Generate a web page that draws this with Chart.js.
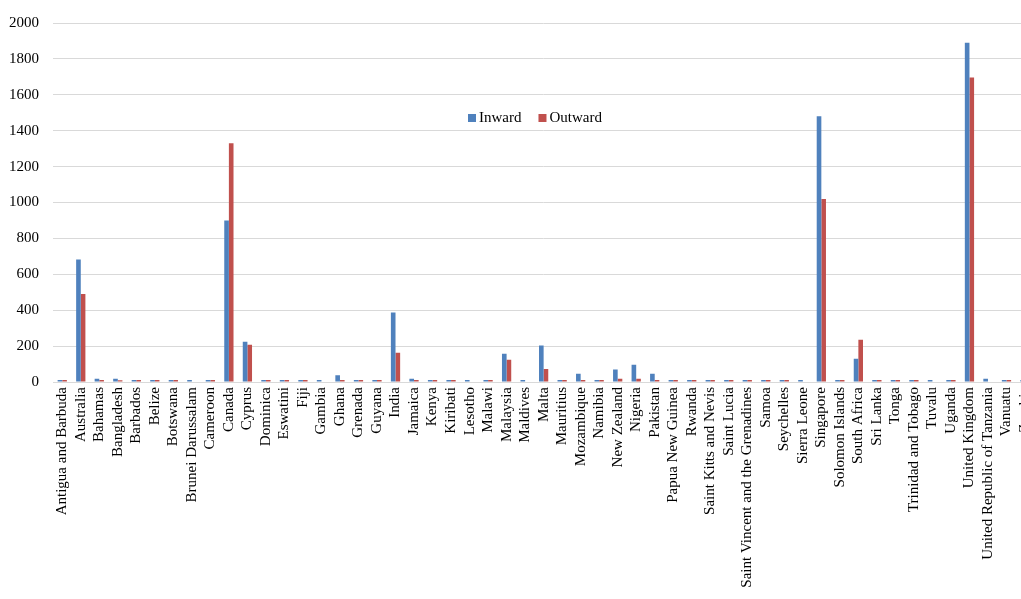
<!DOCTYPE html>
<html>
<head>
<meta charset="utf-8">
<script src="https://cdn.jsdelivr.net/npm/chart.js@4.4.1/dist/chart.umd.min.js"></script>
<style>
  html, body { margin: 0; padding: 0; background: #fff; overflow: hidden; }
  #wrap { width: 1048px; height: 599px; }
</style>
</head>
<body>
<div id="wrap"><canvas id="chart" width="1048" height="599"></canvas></div>
<script>
const countries = [
    'Antigua and Barbuda', 'Australia', 'Bahamas', 'Bangladesh', 'Barbados', 'Belize',
    'Botswana', 'Brunei Darussalam', 'Cameroon', 'Canada', 'Cyprus', 'Dominica',
    'Eswatini', 'Fiji', 'Gambia', 'Ghana', 'Grenada', 'Guyana', 'India', 'Jamaica',
    'Kenya', 'Kiribati', 'Lesotho', 'Malawi', 'Malaysia', 'Maldives', 'Malta',
    'Mauritius', 'Mozambique', 'Namibia', 'New Zealand', 'Nigeria', 'Pakistan',
    'Papua New Guinea', 'Rwanda', 'Saint Kitts and Nevis', 'Saint Lucia',
    'Saint Vincent and the Grenadines', 'Samoa', 'Seychelles', 'Sierra Leone',
    'Singapore', 'Solomon Islands', 'South Africa', 'Sri Lanka', 'Tonga',
    'Trinidad and Tobago', 'Tuvalu', 'Uganda', 'United Kingdom',
    'United Republic of Tanzania', 'Vanuatu', 'Zambia'
];

const inward = [
    11, 683, 18, 18, 11, 11, 11, 11, 11, 900, 224, 11,
    11, 11, 11, 37, 11, 11, 387, 18,
    11, 11, 11, 11, 157, 11, 204,
    11, 46, 11, 70, 96, 46,
    11, 11, 11, 11,
    11, 11, 11, 11,
    1480, 11, 129, 11, 11,
    11, 11, 11, 1890,
    18, 11, 11
];

const outward = [
    11, 490, 11, 10, 11, 11, 11, 0, 11, 1330, 208, 11,
    11, 11, 0, 11, 11, 11, 163, 11,
    11, 11, 0, 11, 124, 0, 72,
    11, 11, 11, 18, 18, 11,
    11, 11, 11, 11,
    11, 11, 11, 0,
    1020, 11, 235, 11, 11,
    11, 0, 11, 1697,
    0, 11, 11
];

const seriesNames = ['Inward', 'Outward'];
const seriesColors = ['#4F81BD', '#C0504D'];

const serif = "'Liberation Serif', 'Times New Roman', serif";

// legend sits inside the plot, as in the original
const insideLegend = {
    id: 'insideLegend',
    afterDraw(chart) {
        const ctx = chart.ctx;
        ctx.save();
        ctx.font = '15px ' + serif;
        ctx.textBaseline = 'middle';
        ctx.fillStyle = '#000';
        let x = 468;
        const y = 118;
        chart.data.datasets.forEach(function(ds) {
            ctx.fillStyle = ds.backgroundColor;
            ctx.fillRect(x, y - 4, 8, 8);
            ctx.fillStyle = '#000';
            ctx.fillText(ds.label, x + 11, y);
            x += 11 + ctx.measureText(ds.label).width + 17;
        });
        ctx.restore();
    }
};

const chart = new Chart(document.getElementById('chart'), {
    type: 'bar',
    data: {
        labels: countries,
        datasets: [
            { label: seriesNames[0], data: inward, backgroundColor: seriesColors[0] },
            { label: seriesNames[1], data: outward, backgroundColor: seriesColors[1] }
        ]
    },
    options: {
        responsive: false,
        animation: false,
        layout: { padding: { top: 22, right: 0, left: 0, bottom: 0 } },
        datasets: {
            bar: { categoryPercentage: 0.5, barPercentage: 1.0, borderWidth: 0 }
        },
        plugins: {
            legend: { display: false },
            tooltip: { enabled: false }
        },
        scales: {
            x: {
                grid: { display: false, drawTicks: false },
                border: { display: true, color: '#D9D9D9' },
                ticks: {
                    autoSkip: false,
                    maxRotation: 90,
                    minRotation: 90,
                    padding: 5,
                    color: '#000',
                    font: { family: serif, size: 15 }
                },
                afterFit(scale) { scale.height = 217; }
            },
            y: {
                min: 0,
                max: 2000,
                grid: { color: '#D9D9D9', drawTicks: false },
                border: { display: false },
                ticks: {
                    stepSize: 200,
                    padding: 14,
                    color: '#000',
                    font: { family: serif, size: 15 },
                    callback: function(v) { return String(v); }
                },
                afterFit(scale) { scale.width = 53; }
            }
        }
    },
    plugins: [insideLegend]
});
</script>
</body>
</html>
